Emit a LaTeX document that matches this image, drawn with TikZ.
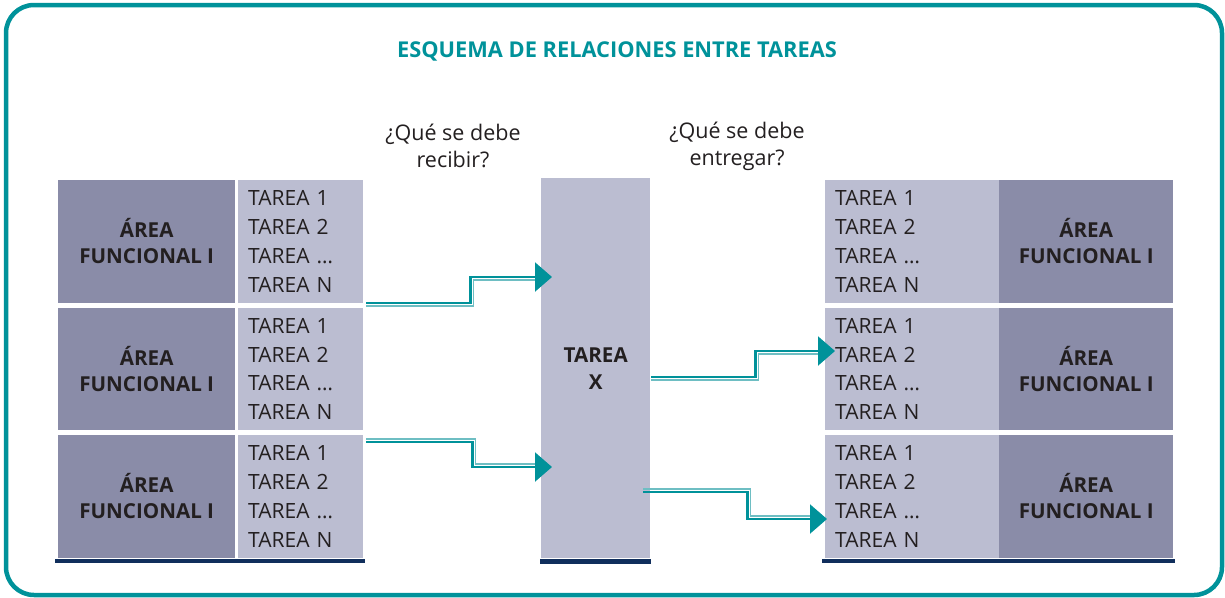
\documentclass[tikz,border=0pt]{standalone}
\usepackage{fontspec}
\setmainfont{Open Sans}
\usepackage{tikz}
\usetikzlibrary{calc}
\usetikzlibrary{arrows.meta}
\definecolor{verdeazul}{RGB}{0,146,154}
\definecolor{verdeclaro}{RGB}{110,190,195}
\definecolor{areagris}{RGB}{138,140,168}
\definecolor{tareagris}{RGB}{187,189,209}
\definecolor{marino}{RGB}{16,46,92}
\definecolor{textogris}{RGB}{35,31,32}
\newcommand{\letra}[2]{\fontsize{#1}{#2}\selectfont}
\newcommand{\listatareas}{TAREA 1\\TAREA 2\\TAREA …\\TAREA N}
\newcommand{\areafun}{ÁREA\\FUNCIONAL I}
\tikzset{
  area/.style={fill=areagris, text=textogris, font=\bfseries\letra{20.6}{26}, align=center,
    inner sep=0pt, minimum width=177pt, minimum height=122.5pt, anchor=north west},
  tareas/.style={fill=tareagris, text=textogris, font=\letra{21}{28.7}, align=left,
    inner xsep=10pt, inner ysep=0pt, text width=105pt, minimum height=122.5pt, anchor=north west},
  barra/.style={draw=marino, line width=4.5pt},
  flecha/.style={draw=verdeazul, line width=2.2pt, -{Triangle[length=17pt,width=29pt]}},
  sombra/.style={draw=verdeclaro, line width=1.6pt}
}
\begin{document}
\begin{tikzpicture}[x=1pt,y=-1pt]
        \useasboundingbox (0,0) rectangle (1225,597);
        % marco
        \draw[verdeazul, line width=4.5pt, rounded corners=28pt] (6,5) rectangle (1222,595);

        % titulo y preguntas
        \node[text=verdeazul, font=\bfseries\letra{21.8}{26}] (titulo) at (617,51) {ESQUEMA DE RELACIONES ENTRE TAREAS};
        \node[text=textogris, font=\letra{21.5}{27}, align=center] (recibir) at (453,146) {¿Qué se debe\\recibir?};
        \node[text=textogris, font=\letra{21.5}{27}, align=center] (entregar) at (737,146) {¿Qué se debe\\entregar?};

        % columna izquierda
        \node[area] (areaI1) at (58,180) {\areafun};
        \node[area] (areaI2) at (58,307.5) {\areafun};
        \node[area] (areaI3) at (58,435) {\areafun};
        \node[tareas] (tareasI1) at (238,180) {\listatareas};
        \node[tareas] (tareasI2) at (238,307.5) {\listatareas};
        \node[tareas] (tareasI3) at (238,435) {\listatareas};

        % tarea central
        \node[fill=tareagris, text=textogris, font=\bfseries\letra{20.6}{27}, align=center, inner sep=0pt,
              minimum width=109pt, minimum height=380pt, anchor=north west] (tareaX) at (541,178) {TAREA\\X};

        % columna derecha
        \node[tareas, text width=161pt] (tareasD1) at (825,180) {\listatareas};
        \node[tareas, text width=161pt] (tareasD2) at (825,307.5) {\listatareas};
        \node[tareas, text width=161pt] (tareasD3) at (825,435) {\listatareas};
        \node[area, minimum width=174pt] (areaD1) at (999,180) {\areafun};
        \node[area, minimum width=174pt] (areaD2) at (999,307.5) {\areafun};
        \node[area, minimum width=174pt] (areaD3) at (999,435) {\areafun};

        % barras inferiores
        \draw[barra] ([shift={(-3,3)}]areaI3.south west) -- ([shift={(2,3)}]tareasI3.south east);
        \draw[barra] ([shift={(-1,3)}]tareaX.south west) -- ([shift={(1,3)}]tareaX.south east);
        \draw[barra] ([shift={(-3,3)}]tareasD3.south west) -- ([shift={(2,3)}]areaD3.south east);

        % puntos de las flechas
        \coordinate (s1) at ($(tareasI1.south east)+(3,0)$);
        \coordinate (e1) at ($(tareaX.north west)+(11,99)$);
        \coordinate (s2) at ($(tareasI3.north east)+(3,7)$);
        \coordinate (e2) at ($(tareaX.north west)+(11,289)$);
        \coordinate (s3) at ($(tareaX.north east)+(1,199)$);
        \coordinate (e3) at ($(tareasD2.north west)+(10,43.5)$);
        \coordinate (s4) at ($(tareaX.north east)+(-7,314)$);
        \coordinate (e4) at ($(tareasD3.north west)+(2,84)$);

        % flechas
        \draw[sombra] ([shift={(0,3)}]s1) -- ++(107,0) |- ([shift={(-16,3)}]e1);
        \draw[flecha] (s1) -- ++(104,0) |- (e1);
        \draw[sombra] ([shift={(0,-3)}]s2) -- ++(109,0) |- ([shift={(-16,-3)}]e2);
        \draw[flecha] (s2) -- ++(106,0) |- (e2);
        \draw[sombra] ([shift={(0,3)}]s3) -- ++(107,0) |- ([shift={(-16,3)}]e3);
        \draw[flecha] (s3) -- ++(104,0) |- (e3);
        \draw[sombra] ([shift={(0,-3)}]s4) -- ++(107,0) |- ([shift={(-16,-3)}]e4);
        \draw[flecha] (s4) -- ++(104,0) |- (e4);
    \end{tikzpicture}
\end{document}
